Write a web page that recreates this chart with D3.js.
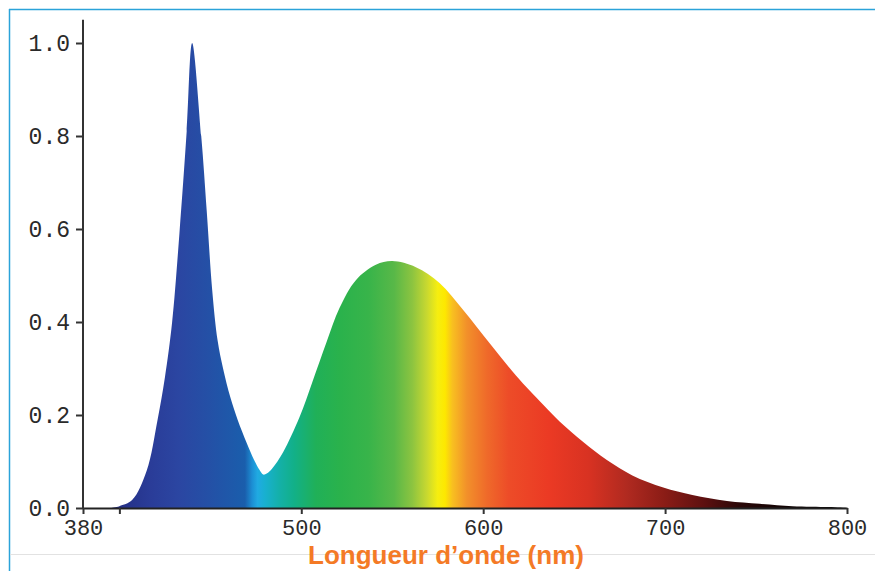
<!DOCTYPE html>
<html>
<head>
<meta charset="utf-8">
<script src="https://cdn.jsdelivr.net/npm/d3@7"></script>
<style>
    html, body { margin: 0; padding: 0; background: #fff; }
    svg { display: block; }
    .tick text { font-family: "Liberation Mono", "DejaVu Sans Mono", monospace; fill: #2a2a2a; }
</style>
</head>
<body>
<div id="chart"></div>
<script>
// spectrum (nm, relative intensity)
var wavelengths = [395, 400, 407, 415, 421, 425, 429, 433, 437, 440, 445, 448, 451, 454, 457, 461, 465, 470, 474, 477, 479,
    481, 484, 490, 499, 506, 514, 521, 530, 541, 550, 563, 576, 589, 604, 618, 633, 642, 655, 668, 682, 699,
    715, 734, 752, 770, 790, 800];
var intensity = [0, 0.004, 0.017, 0.08, 0.19, 0.28, 0.40, 0.59, 0.81, 1.0, 0.80, 0.64, 0.47, 0.36, 0.30, 0.238, 0.19, 0.14, 0.104, 0.082, 0.072,
    0.074, 0.085, 0.12, 0.195, 0.27, 0.358, 0.43, 0.49, 0.523, 0.531, 0.518, 0.484, 0.426, 0.352, 0.285, 0.222, 0.186, 0.142, 0.103, 0.07, 0.044,
    0.028, 0.015, 0.009, 0.004, 0.002, 0];

var xTicks = [380, 400, 500, 600, 700, 800];
var yTicks = [0, 0.2, 0.4, 0.6, 0.8, 1.0];
var xTitle = 'Longueur d\u2019onde (nm)';

// colour bands of the fill (nm -> colour)
var spectrumStops = [
    [395, '#232c80'], [417, '#2a3c98'], [433, '#2b46a2'], [449, '#2450a6'], [469, '#1a5eac'],
    [473, '#1c8fd4'], [476, '#20aae2'], [480, '#18b0d0'], [488, '#14b0a8'], [496, '#12b088'],
    [508, '#20b058'], [521, '#2ab24c'], [537, '#38b44a'], [551, '#58b848'], [561, '#8cc440'],
    [569, '#c8d830'], [575, '#f6ee10'], [579, '#fde800'], [583, '#f8c020'], [591, '#f2902a'],
    [602, '#ef6a2a'], [614, '#ed4c28'], [636, '#eb3a24'], [658, '#d83222'], [679, '#b02a20'],
    [700, '#8a1c16'], [722, '#5c1010'], [741, '#2a0808'], [768, '#100404'], [800, '#000000']
];

var width = 875, height = 571;

var svg = d3.select('#chart').append('svg')
    .attr('width', width)
    .attr('height', height);

// frame of the figure
svg.append('line').attr('x1', 9).attr('y1', 9.5).attr('x2', width).attr('y2', 9.5)
    .style('stroke', '#2ba3d9').style('stroke-width', 1.5);
svg.append('line').attr('x1', 9.5).attr('y1', 9).attr('x2', 9.5).attr('y2', height)
    .style('stroke', '#2ba3d9').style('stroke-width', 1.5);
svg.append('line').attr('x1', 10).attr('y1', 554.5).attr('x2', width).attr('y2', 554.5)
    .style('stroke', '#e2e2e2').style('stroke-width', 1);

var x = d3.scaleLinear().domain([380, 800]).range([83, 847]);
var y = d3.scaleLinear().domain([0, 1]).range([508, 43]);

var grad = svg.append('defs').append('linearGradient')
    .attr('id', 'spectrum')
    .attr('gradientUnits', 'userSpaceOnUse')
    .attr('x1', x(380)).attr('x2', x(800))
    .attr('y1', 0).attr('y2', 0);

grad.selectAll('stop')
    .data(spectrumStops)
    .enter().append('stop')
    .attr('offset', function(d) { return (d[0] - 380) / 420; })
    .attr('stop-color', function(d) { return d[1]; });

var points = wavelengths.map(function(w, i) { return {wl: w, v: intensity[i]}; });

var area = d3.area()
    .x(function(d) { return x(d.wl); })
    .y0(y(0))
    .y1(function(d) { return y(Math.max(0, d.v)); })
    .curve(d3.curveCatmullRom.alpha(0.5));

svg.append('path')
    .datum(points)
    .attr('d', area)
    .style('fill', 'url(#spectrum)');

// y axis, its line runs a bit above 1.0
var yAxis = svg.append('g')
    .attr('transform', 'translate(' + x(380) + ',0)')
    .call(d3.axisLeft(y).tickValues(yTicks).tickSize(7).tickPadding(6)
        .tickFormat(d3.format('.1f')));
yAxis.select('.domain').remove();
yAxis.selectAll('.tick line').style('stroke', '#333').style('stroke-width', 2);
yAxis.selectAll('.tick text').style('font-size', '23px');
svg.append('line')
    .attr('x1', x(380)).attr('x2', x(380))
    .attr('y1', y(1.05)).attr('y2', y(0))
    .style('stroke', '#333').style('stroke-width', 2);

var xAxis = svg.append('g')
    .attr('transform', 'translate(0,' + y(0) + ')')
    .call(d3.axisBottom(x).tickValues(xTicks).tickSize(6).tickSizeOuter(0).tickPadding(5)
        .tickFormat(function(d) { return d == 400 ? '' : d; }));
xAxis.select('.domain').style('stroke', '#222').style('stroke-width', 2);
xAxis.selectAll('.tick line').style('stroke', '#333').style('stroke-width', 2);
xAxis.selectAll('.tick text').style('font-size', '22px');

svg.append('text')
    .attr('x', 446)
    .attr('y', 564)
    .attr('text-anchor', 'middle')
    .style('font-family', '"Liberation Sans", Arial, sans-serif')
    .style('font-weight', 'bold')
    .style('font-size', '26px')
    .style('fill', '#f47a26')
    .text(xTitle);
</script>
</body>
</html>
